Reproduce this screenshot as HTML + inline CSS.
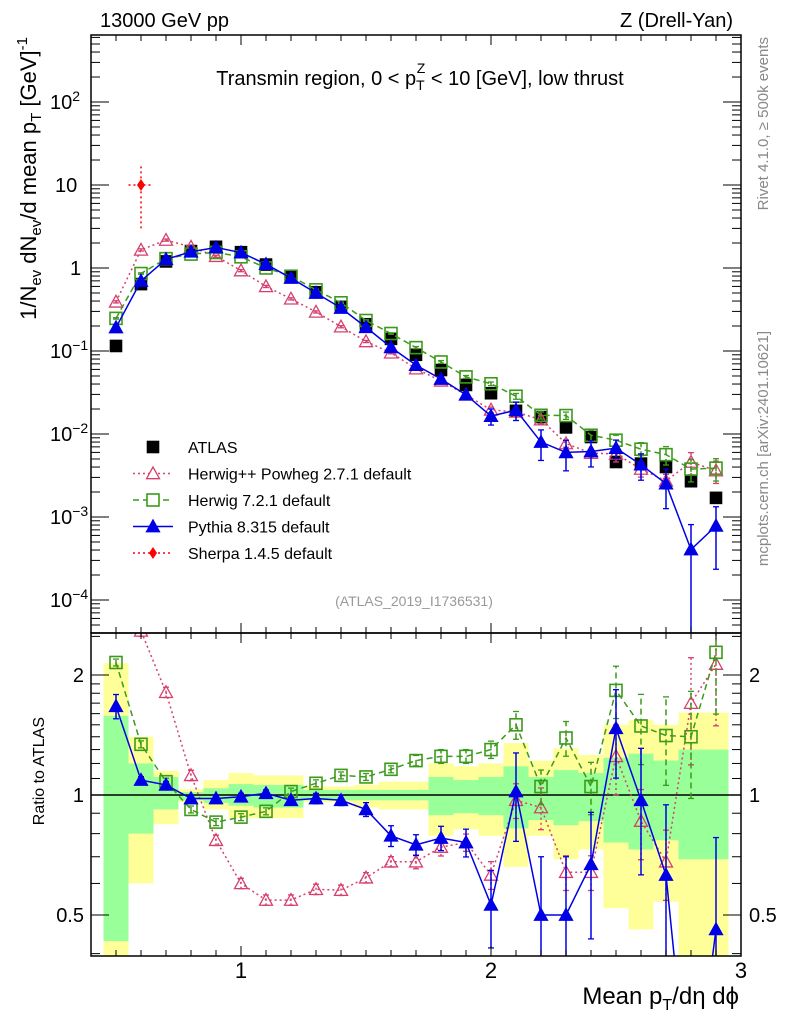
<!DOCTYPE html>
<html><head><meta charset="utf-8"><style>
html,body{margin:0;background:#fff;overflow:hidden;width:786px;height:1024px}
svg{display:block;font-family:"Liberation Sans",sans-serif}
</style></head><body>
<svg id="c" width="786" height="1024" xmlns="http://www.w3.org/2000/svg"></svg>
<script>
const xs=[0.5,0.6,0.7,0.8,0.9,1.0,1.1,1.2,1.3,1.4,1.5,1.6,1.7,1.8,1.9,2.0,2.1,2.2,2.3,2.4,2.5,2.6,2.7,2.8,2.9];
const atlas=[0.115,0.64,1.2,1.6,1.8,1.55,1.1,0.78,0.51,0.34,0.21,0.14,0.09,0.059,0.039,0.031,0.019,0.016,0.012,0.0092,0.0046,0.0044,0.004,0.0027,0.0017];
const hppRatio=[3.4,2.58,1.81,1.12,0.77,0.60,0.545,0.545,0.58,0.577,0.62,0.68,0.68,0.74,0.76,0.63,0.97,0.93,0.64,0.64,1.25,0.86,0.68,1.70,2.13];
const hppErr=[0.03,0.03,0.03,0.03,0.03,0.03,0.03,0.03,0.03,0.03,0.03,0.03,0.04,0.05,0.05,0.08,0.1,0.12,0.1,0.1,0.2,0.2,0.2,0.3,0.3];
const h7Ratio=[2.15,1.34,1.08,0.92,0.855,0.88,0.91,1.02,1.07,1.12,1.11,1.16,1.22,1.25,1.25,1.30,1.50,1.05,1.39,1.05,1.83,1.49,1.41,1.40,2.28];
const h7Err=[0.02,0.02,0.02,0.02,0.02,0.02,0.02,0.02,0.02,0.02,0.02,0.02,0.03,0.04,0.04,0.05,0.08,0.1,0.1,0.15,0.15,0.2,0.25,0.3,0.3];
const pyRatio=[1.67,1.09,1.06,0.98,0.98,0.99,1.01,0.97,0.98,0.97,0.92,0.79,0.75,0.78,0.76,0.53,1.02,0.50,0.50,0.67,1.47,0.97,0.63,0.15,0.46];
const pyErr=[0.07,0.02,0.02,0.02,0.02,0.02,0.02,0.02,0.03,0.03,0.04,0.06,0.06,0.07,0.08,0.22,0.25,0.4,0.4,0.35,0.25,0.35,0.5,1.0,0.7];
const sherpaX=[0.6], sherpaY=[10], sherpaLo=[3.0], sherpaHi=[17.9];
const yelHi=[2.14,1.40,1.15,1.035,1.09,1.135,1.12,1.12,1.05,1.05,1.06,1.08,1.08,1.20,1.18,1.2,1.35,1.22,1.31,1.26,1.5,1.54,1.5,1.61,1.61];
const yelLo=[0.3,0.6,0.845,0.96,0.92,0.875,0.875,0.875,0.96,0.96,0.93,0.92,0.92,0.79,0.82,0.79,0.66,0.79,0.69,0.73,0.52,0.46,0.54,0.3,0.3];
const grnHi=[1.58,1.2,1.11,1.017,1.04,1.065,1.06,1.06,1.03,1.03,1.03,1.03,1.03,1.11,1.09,1.11,1.18,1.11,1.155,1.135,1.24,1.27,1.22,1.30,1.30];
const grnLo=[0.43,0.8,0.92,0.97,0.955,0.94,0.93,0.93,0.97,0.97,0.97,0.97,0.97,0.89,0.90,0.89,0.825,0.865,0.84,0.86,0.76,0.73,0.77,0.69,0.69];

const S=document.getElementById('c'),NS='http://www.w3.org/2000/svg';
function el(t,a,p){const e=document.createElementNS(NS,t);for(const k in a)e.setAttribute(k,a[k]);(p||S).appendChild(e);return e;}
const X0=91,X1=741,MT=35,MB=633,RB=956;
const X=v=>X0+(v-0.4)/2.6*(X1-X0);
const Y=v=>268-83*Math.log10(v);
const R=v=>795-398.6*Math.log10(v);

const defs=el('defs',{});
const c1=el('clipPath',{id:'cm'},defs);el('rect',{x:X0,y:MT,width:X1-X0,height:MB-MT},c1);
const c2=el('clipPath',{id:'cr'},defs);el('rect',{x:X0,y:MB,width:X1-X0,height:RB-MB},c2);
const gm=el('g',{'clip-path':'url(#cm)'});
const gr=el('g',{'clip-path':'url(#cr)'});

xs.forEach((x,i)=>{
 const a=X(x-0.05),b=X(x+0.05);
 let r=el('rect',{x:a,y:R(yelHi[i]),width:b-a,height:R(yelLo[i])-R(yelHi[i]),fill:'#ffff99'},gr);
 
 r=el('rect',{x:a,y:R(grnHi[i]),width:b-a,height:R(grnLo[i])-R(grnHi[i]),fill:'#99ff99'},gr);
 
});
el('line',{x1:X0,x2:X1,y1:R(1),y2:R(1),stroke:'#000','stroke-width':1.5},gr);

function tri(g,x,y,fill,col,name){const s=6.5;const p=el('polygon',{points:`${x},${y-s} ${x-s},${y+s*0.8} ${x+s},${y+s*0.8}`,fill:fill,stroke:col,'stroke-width':1.3},g);}
function sq(g,x,y,fill,col,name,s){const p=el('rect',{x:x-s,y:y-s,width:2*s,height:2*s,fill:fill,stroke:col,'stroke-width':1.6},g);}
function series(g,yf,vals,err,col,dash,w,marker,name){
 el('polyline',{points:xs.map((x,i)=>X(x)+','+yf(vals[i])).join(' '),fill:'none',stroke:col,'stroke-width':w,'stroke-dasharray':dash},g);
 xs.forEach((x,i)=>{const v=vals[i],lo=Math.max(v*(1-err[i]),v*0.01),hi=v*(1+err[i]);
  el('line',{x1:X(x),x2:X(x),y1:yf(lo),y2:yf(hi),stroke:col,'stroke-width':w,'stroke-dasharray':dash},g);
  el('line',{x1:X(x)-3,x2:X(x)+3,y1:yf(lo),y2:yf(lo),stroke:col,'stroke-width':1.3},g);
  el('line',{x1:X(x)-3,x2:X(x)+3,y1:yf(hi),y2:yf(hi),stroke:col,'stroke-width':1.3},g);
  marker(g,X(x),yf(v),name+'-'+x);});
}
const hpp=xs.map((x,i)=>atlas[i]*hppRatio[i]),h7=xs.map((x,i)=>atlas[i]*h7Ratio[i]),py=xs.map((x,i)=>atlas[i]*pyRatio[i]);
const HC='#d6406e',GC='#3c9a1a',BC='#0000e6';
xs.forEach((x,i)=>sq(gm,X(x),Y(atlas[i]),'#000','#000','atlas-point-'+x,5.5));
series(gm,Y,hpp,hppErr,HC,'2,3',1.5,(g,x,y,n)=>tri(g,x,y,'none',HC,n),'herwigpp-point');
series(gm,Y,h7,h7Err,GC,'6,4',1.5,(g,x,y,n)=>sq(g,x,y,'none',GC,n,6),'herwig7-point');
series(gm,Y,py,pyErr,BC,'',1.5,(g,x,y,n)=>tri(g,x,y,BC,BC,n),'pythia-point');
sherpaX.forEach((x,i)=>{
 el('line',{x1:X(x),x2:X(x),y1:Y(sherpaLo[i]),y2:Y(sherpaHi[i]),stroke:'#f00','stroke-width':1.5,'stroke-dasharray':'2,3'},gm);
 el('line',{x1:X(x-0.05),x2:X(x+0.05),y1:Y(sherpaY[i]),y2:Y(sherpaY[i]),stroke:'#f00','stroke-width':1.5,'stroke-dasharray':'2,3'},gm);
 const y=Y(sherpaY[i]),xx=X(x);const d=el('polygon',{points:`${xx},${y-6} ${xx+4},${y} ${xx},${y+6} ${xx-4},${y}`,fill:'#f00'},gm);
 
});
series(gr,R,hppRatio,hppErr,HC,'2,3',1.5,(g,x,y,n)=>tri(g,x,y,'none',HC,n),'herwigpp-ratio');
series(gr,R,h7Ratio,h7Err,GC,'6,4',1.5,(g,x,y,n)=>sq(g,x,y,'none',GC,n,6),'herwig7-ratio');
series(gr,R,pyRatio,pyErr,BC,'',1.5,(g,x,y,n)=>tri(g,x,y,BC,BC,n),'pythia-ratio');

el('rect',{x:X0,y:MT,width:X1-X0,height:MB-MT,fill:'none',stroke:'#000','stroke-width':1.5});
el('rect',{x:X0,y:MB,width:X1-X0,height:RB-MB,fill:'none',stroke:'#000','stroke-width':1.5});
for(let k=4;k<=30;k++){const v=k/10,x=X(v),big=k%10==0,L=big?10:6;
 [[MT,1],[MB,-1],[MB,1],[RB,-1]].forEach(([y,d])=>el('line',{x1:x,x2:x,y1:y,y2:y+d*L,stroke:'#000','stroke-width':1}));}
function txt(s,x,y,size,anchor,name,extra){const t=el('text',Object.assign({x:x,y:y,'font-size':size,'text-anchor':anchor||'start'},extra||{}));t.innerHTML=s;return t;}
[1,2,3].forEach(v=>txt(String(v),X(v),978,22,'middle','x-tick-label-'+v));
for(let e=-5;e<=2;e++)for(let m=1;m<=9;m++){const v=m*Math.pow(10,e),y=Y(v);if(y<MT||y>MB)continue;const L=m==1?18:9;
 el('line',{x1:X0,x2:X0+L,y1:y,y2:y,stroke:'#000'});el('line',{x1:X1,x2:X1-L,y1:y,y2:y,stroke:'#000'});}
const ytl=[['10<tspan dy="-8" font-size="14">2</tspan>',2],['10',1],['1',0],['10<tspan dy="-8" font-size="14">−1</tspan>',-1],['10<tspan dy="-8" font-size="14">−2</tspan>',-2],['10<tspan dy="-8" font-size="14">−3</tspan>',-3],['10<tspan dy="-8" font-size="14">−4</tspan>',-4]];
ytl.forEach(([s,e])=>{txt(s,e<0||e==2?50:(e==1?55:70),Y(Math.pow(10,e))+7,20,'start','y-tick-label');});
[0.4,0.5,0.6,0.7,0.8,0.9,1,1.1,1.2,1.3,1.4,1.5,1.6,1.7,1.8,1.9,2,2.5].forEach(v=>{const y=R(v);if(y<MB||y>RB)return;const L=(v==0.5||v==1||v==2)?18:9;
 el('line',{x1:X0,x2:X0+L,y1:y,y2:y,stroke:'#000'});el('line',{x1:X1,x2:X1-L,y1:y,y2:y,stroke:'#000'});});
[[2,'2'],[1,'1'],[0.5,'0.5']].forEach(([v,s])=>{txt(s,84,R(v)+7,20,'end','ratio-tick-left');txt(s,749,R(v)+7,20,'start','ratio-tick-right');});
txt('13000 GeV pp',100,27,20,'start','energy-label');
txt('Z (Drell-Yan)',733,27,20,'end','process-label');
txt('Transmin region, 0 &lt; p<tspan font-size="14" dy="5">T</tspan><tspan font-size="14" dx="-8" dy="-17">Z</tspan><tspan dy="12"> &lt; 10 [GeV], low thrust</tspan>',420,85,20,'middle','plot-title');
txt('(ATLAS_2019_I1736531)',414,606,14,'middle','analysis-id',{fill:'#999'});
txt('Mean p<tspan font-size="16" dy="6">T</tspan><tspan dy="-6">/dη dϕ</tspan>',739,1004,24,'end','x-axis-title');
txt('1/N<tspan font-size="15" dy="5">ev</tspan><tspan dy="-5"> dN</tspan><tspan font-size="15" dy="5">ev</tspan><tspan dy="-5">/d mean p</tspan><tspan font-size="15" dy="5">T</tspan><tspan dy="-5"> [GeV]</tspan><tspan font-size="15" dy="-9">-1</tspan>',0,0,22,'end','y-axis-title',{transform:'translate(36,37) rotate(-90)'});
txt('Ratio to ATLAS',0,0,16,'end','ratio-axis-title',{transform:'translate(44,717) rotate(-90)'});
txt('Rivet 4.1.0, ≥ 500k events',0,0,15,'end','rivet-label',{transform:'translate(768,37) rotate(-90)',fill:'#888'});
txt('mcplots.cern.ch [arXiv:2401.10621]',0,0,15,'end','mcplots-label',{transform:'translate(768,331) rotate(-90)',fill:'#888'});
const leg=[['ATLAS','atlas'],['Herwig++ Powheg 2.7.1 default','hpp'],['Herwig 7.2.1 default','h7'],['Pythia 8.315 default','py'],['Sherpa 1.4.5 default','sh']];
leg.forEach(([s,k],i)=>{const y=447+i*26.5,x=153;
 if(k=='atlas')sq(S,x,y,'#000','#000','legend-atlas-marker',5.5);
 if(k=='hpp'){el('line',{x1:x-20,x2:x+20,y1:y,y2:y,stroke:HC,'stroke-width':1.5,'stroke-dasharray':'2,3'});tri(S,x,y,'#fff',HC,'legend-herwigpp-marker');}
 if(k=='h7'){el('line',{x1:x-20,x2:x+20,y1:y,y2:y,stroke:GC,'stroke-width':1.5,'stroke-dasharray':'6,4'});sq(S,x,y,'#fff',GC,'legend-herwig7-marker',6);}
 if(k=='py'){el('line',{x1:x-20,x2:x+20,y1:y,y2:y,stroke:BC,'stroke-width':1.5});tri(S,x,y,BC,BC,'legend-pythia-marker');}
 if(k=='sh'){el('line',{x1:x-20,x2:x+20,y1:y,y2:y,stroke:'#f00','stroke-width':1.5,'stroke-dasharray':'2,3'});const d=el('polygon',{points:`${x},${y-6} ${x+4},${y} ${x},${y+6} ${x-4},${y}`,fill:'#f00'});}
 txt(s,188,y+6,16,'start','legend-entry-'+k);
});
</script>
</body></html>
